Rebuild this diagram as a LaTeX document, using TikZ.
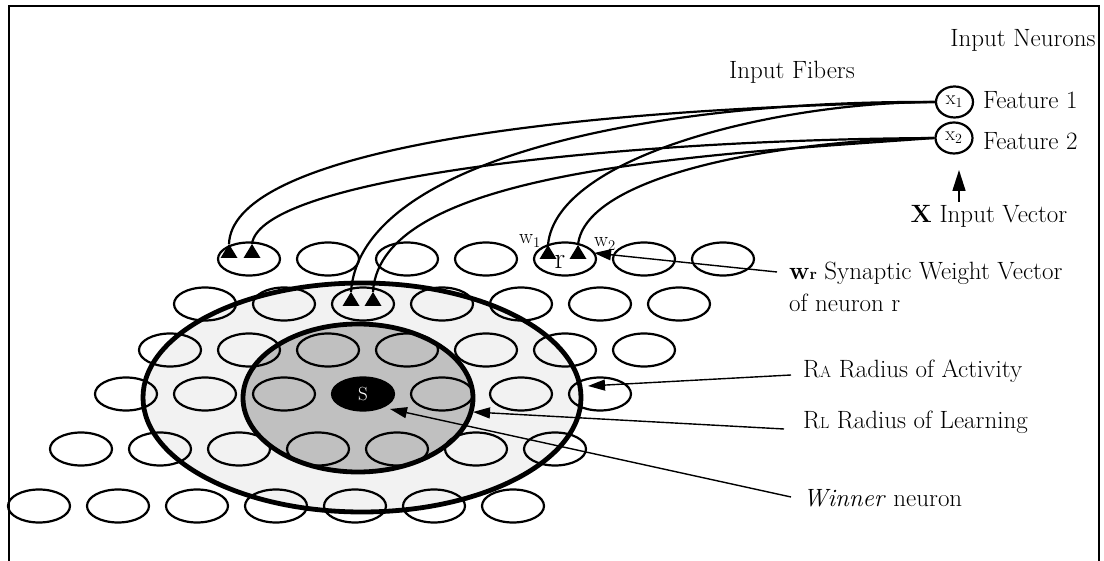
\documentclass[tikz,border=0pt]{standalone}
\usetikzlibrary{arrows.meta,shapes.geometric,calc}
\definecolor{actfill}{HTML}{F2F2F2}
\definecolor{learnfill}{HTML}{C0C0C0}
\begin{document}
\begin{tikzpicture}[x=1pt,y=-1pt,
  neuron/.style={ellipse, draw, line width=2.2pt, minimum width=62pt, minimum height=33pt, inner sep=0pt},
  inneuron/.style={ellipse, draw, line width=2.2pt, minimum width=37pt, minimum height=31pt, inner sep=0pt, font=\fontsize{20}{20}\selectfont},
  zone/.style={ellipse, draw, line width=4.8pt, inner sep=0pt},
  lab/.style={inner sep=0pt, font=\fontsize{25}{32}\selectfont},
  small/.style={inner sep=0pt, font=\fontsize{21}{21}\selectfont},
  fiber/.style={line width=2.2pt},
  pointer/.style={line width=1.4pt, -{Triangle[length=17pt,width=11pt]}},
  syn/.pic={\fill (0,0) -- (-8.5,14) -- (8.5,14) -- cycle;},
]
\useasboundingbox (0,0) rectangle (1104,561);

% open frame
\draw[line width=2.8pt] (9,561) -- (9,6) -- (1099,6) -- (1099,561);

% radius of activity and radius of learning
\node[zone, fill=actfill, minimum width=438pt, minimum height=229pt] (act) at (362,397.5) {};
\node[zone, fill=learnfill, minimum width=230pt, minimum height=148pt] (learn) at (358,398) {};

% neuron lattice
\foreach \row/\yy/\xs in {1/259/249, 2/304/205, 3/350/170, 4/394/126, 5/449/81, 6/506/39} {
  \foreach \c in {1,...,7} {
    \ifnum\row\c=44 \else
      \node[neuron] (n\row-\c) at ({\xs+79*(\c-1)},\yy) {};
    \fi
  }
}
% winner neuron
\node[neuron, fill=black, text=white, font=\fontsize{19}{19}\selectfont] (win) at (363,394) {S};

% input neurons
\node[inneuron] (x1) at (954.5,102) {x\textsubscript{1}};
\node[inneuron] (x2) at (954,138) {x\textsubscript{2}};

% synapses
\coordinate (sA) at (229,244);
\coordinate (sB) at (252,244);
\coordinate (sC) at (351,292);
\coordinate (sD) at (373,292);
\coordinate (sE) at (548,245);
\coordinate (sF) at (578,245);
\foreach \s in {sA,sB,sC,sD,sE,sF} { \pic at (\s) {syn}; }

% input fibers
\draw[fiber] (x1.west) .. controls (500,110) and (232,160) .. (sA);
\draw[fiber] (x2.west) .. controls (600,140) and (260,180) .. (sB);
\draw[fiber] (x1.west) .. controls (650,100) and (360,160) .. (sC);
\draw[fiber] (x2.west) .. controls (700,155) and (380,170) .. (sD);
\draw[fiber] (x1.west) .. controls (780,102) and (556,155) .. (sE);
\draw[fiber] (x2.west) .. controls (780,140) and (585,175) .. (sF);

% labels at neuron r
\node[inner sep=0pt, font=\fontsize{30}{30}\selectfont] (rlab) at (560,262) {r};
\node[small] (w1) at (530,241) {w\textsubscript{1}};
\node[small] (w2) at (605,244) {w\textsubscript{2}};

% top labels
\node[lab] (neurlab) at (1023,40) {Input Neurons};
\node[lab] (fiblab) at (792,72) {Input Fibers};
\node[lab, anchor=west] (f1) at (983,100) {Feature 1};
\node[lab, anchor=west] (f2) at (983,141) {Feature 2};
\node[lab] (veclab) at (989,216) {\textbf{X} Input Vector};
\coordinate (vtail) at (959,202);
\coordinate (vtip) at (959,170);
\draw[line width=1.6pt, -{Triangle[length=21pt,width=13pt]}] (vtail) -- (vtip);

% right-hand labels
\node[lab, anchor=west, align=left] (wr) at (789,287)
  {\textbf{w}{\fontsize{16}{16}\selectfont\bfseries r} Synaptic Weight Vector\\of neuron r};
\coordinate (wrtip) at (594,253);
\draw[pointer] ([xshift=-12pt,yshift=15pt]wr.west) -- (wrtip);

\node[lab, anchor=west] (ra) at (803,371) {R{\fontsize{16}{16}\selectfont A} Radius of Activity};
\coordinate (ratip) at (588,386);
\draw[pointer] ([xshift=-12pt,yshift=-4pt]ra.west) -- (ratip);

\node[lab, anchor=west] (rl) at (803,422) {R{\fontsize{16}{16}\selectfont L} Radius of Learning};
\coordinate (rltip) at (473,412);
\draw[pointer] ([xshift=-19pt,yshift=-7pt]rl.west) -- (rltip);

\node[lab, anchor=west] (winlab) at (803,498) {\textit{Winner} neuron};
\coordinate (wintip) at (390,409);
\draw[pointer] ([xshift=-12pt,yshift=1pt]winlab.west) -- (wintip);
\end{tikzpicture}
\end{document}
